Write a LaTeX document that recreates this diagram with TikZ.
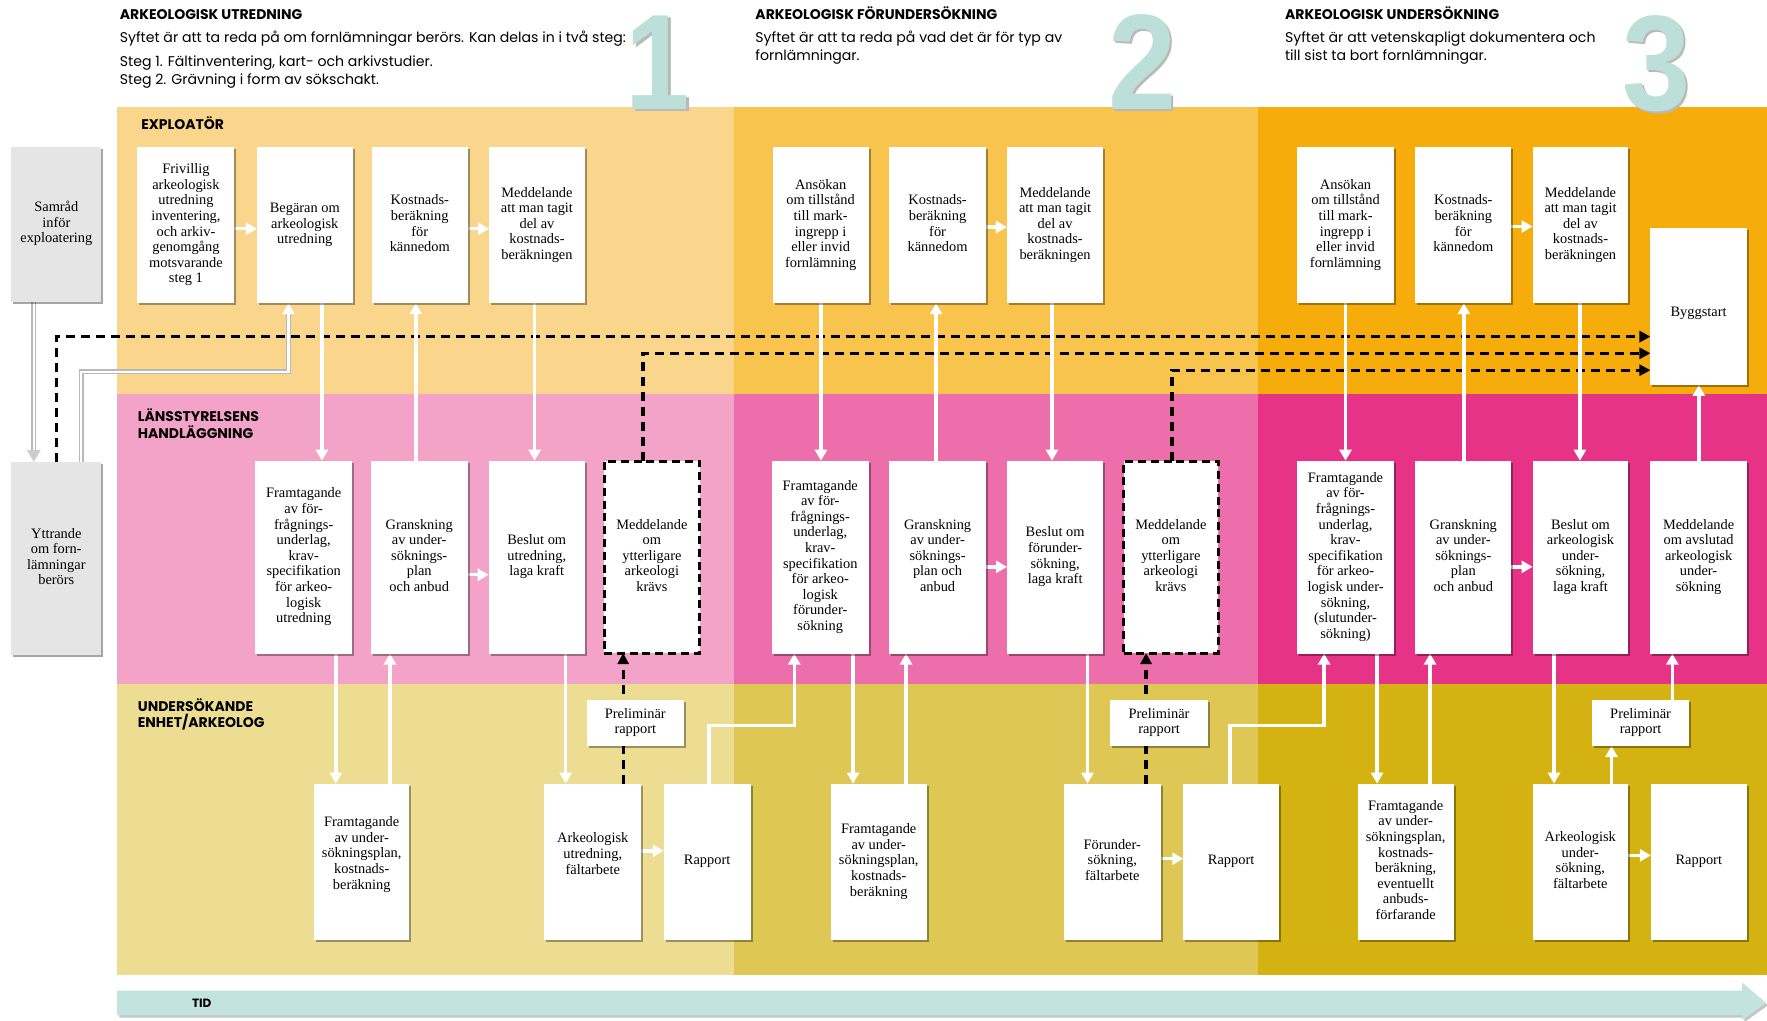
\documentclass[tikz,border=0pt]{standalone}
\usepackage{fontspec}
\setmainfont{Liberation Serif}
\newfontfamily\hsans{Poppins}
\newfontfamily\numfont{Liberation Sans}
\usetikzlibrary{arrows.meta,shadows,fit}
\pgfdeclarelayer{back}
\pgfdeclarelayer{conn}
\pgfsetlayers{back,conn,main}
\definecolor{c11}{HTML}{FAD68C}
\definecolor{c12}{HTML}{F9C44E}
\definecolor{c13}{HTML}{F6AC0A}
\definecolor{c21}{HTML}{F3A3C7}
\definecolor{c22}{HTML}{EC6EAA}
\definecolor{c23}{HTML}{E63287}
\definecolor{c31}{HTML}{ECDD92}
\definecolor{c32}{HTML}{DFC756}
\definecolor{c33}{HTML}{D4B212}
\definecolor{numc}{HTML}{BDDFDA}
\definecolor{tidc}{HTML}{C3E3DF}
\newcommand{\btxt}[2][0pt]{%
  \setbox0=\hbox{\begin{tabular}[t]{@{}c@{}}#2\end{tabular}}%
  \dimen0=\ht0 \advance\dimen0 by \dp0 \relax
  \setbox2=\hbox{\lower\dimexpr\ht0+#1\relax\box0}%
  \ht2=0pt \dp2=\dimen0 \box2}
\begin{document}
\begin{tikzpicture}[x=0.5635pt,y=-0.5635pt,
  box/.style={fill=white, inner sep=0pt, outer sep=0pt,
    font=\fontsize{7.2}{7.8}\selectfont,
    drop shadow={shadow xshift=1pt, shadow yshift=-1pt, opacity=0.35, fill=black}},
  greybox/.style={box, fill=gray!20},
  dashbox/.style={fill=white, draw=black, line width=1.5pt, dash pattern=on 4pt off 2.4pt,
    inner sep=0pt, outer sep=0pt, font=\fontsize{7.2}{7.8}\selectfont},
  wl/.style={draw=white, line width=1.7pt, -{Triangle[length=5.5pt,width=6pt]}},
  dl/.style={draw=black, line width=1.6pt, dash pattern=on 4.5pt off 3pt, -{Triangle[length=5.5pt,width=5.5pt]}},
  hd/.style={font=\hsans\bfseries\fontsize{7}{8}\selectfont, inner sep=0pt, anchor=base west},
  tx/.style={font=\hsans\fontsize{7.05}{8}\selectfont, inner sep=0pt, anchor=base west},
  lane/.style={font=\hsans\bfseries\fontsize{7}{8}\selectfont, inner sep=0pt, anchor=base west},
  num/.style={font=\numfont\bfseries\fontsize{68}{68}\selectfont, text=numc, inner sep=0pt, anchor=base},
  numsh/.style={num, text=gray!55}
]
\useasboundingbox (0,0) rectangle (1568,906);
\begin{pgfonlayer}{back}
\fill[white] (0,0) rectangle (1568,906);
\fill[c11] (104,95) rectangle (651,350);
\fill[c12] (651,95) rectangle (1116,350);
\fill[c13] (1116,95) rectangle (1568,350);
\fill[c21] (104,350) rectangle (651,607);
\fill[c22] (651,350) rectangle (1116,607);
\fill[c23] (1116,350) rectangle (1568,607);
\fill[c31] (104,607) rectangle (651,865);
\fill[c32] (651,607) rectangle (1116,865);
\fill[c33] (1116,607) rectangle (1568,865);
\fill[gray!45] (106,881) -- (1548,881) -- (1548,874) -- (1569,892) -- (1548,907) -- (1548,903) -- (106,903) -- cycle;
\fill[tidc] (104,879) -- (1546,879) -- (1546,872) -- (1567,890) -- (1546,905) -- (1546,901) -- (104,901) -- cycle;
\end{pgfonlayer}

% headers
\node[hd] (h1) at (106,17.5) {ARKEOLOGISK UTREDNING};
\node[tx] (t1a) at (106,38) {Syftet är att ta reda på om fornlämningar berörs. Kan delas in i två steg:};
\node[tx] (t1b) at (106,58.6) {Steg 1. Fältinventering, kart- och arkivstudier.};
\node[tx] (t1c) at (106,75) {Steg 2. Grävning i form av sökschakt.};
\node[hd] (h2) at (670,17.5) {ARKEOLOGISK FÖRUNDERSÖKNING};
\node[tx] (t2a) at (670,38) {Syftet är att ta reda på vad det är för typ av};
\node[tx] (t2b) at (670,54) {fornlämningar.};
\node[hd] (h3) at (1140,17.5) {ARKEOLOGISK UNDERSÖKNING};
\node[tx] (t3a) at (1140,38) {Syftet är att vetenskapligt dokumentera och};
\node[tx] (t3b) at (1140,54) {till sist ta bort fornlämningar.};

% big numbers
\node[numsh] at (586,99) {\scalebox{0.85}[1]{1}};
\node[num] (n1) at (584,97) {\scalebox{0.85}[1]{1}};
\node[numsh] at (1016,99) {\scalebox{0.9}[1]{2}};
\node[num] (n2) at (1014,97) {\scalebox{0.9}[1]{2}};
\node[numsh] at (1472,100) {\scalebox{0.9}[1]{3}};
\node[num] (n3) at (1470,98) {\scalebox{0.9}[1]{3}};

% lane labels
\node[lane] (l1) at (125,115) {EXPLOATÖR};
\node[lane] (l2a) at (122,374) {LÄNSSTYRELSENS};
\node[lane] (l2b) at (122,389) {HANDLÄGGNING};
\node[lane] (l3a) at (122,631) {UNDERSÖKANDE};
\node[lane] (l3b) at (122,646) {ENHET/ARKEOLOG};
\node[font=\hsans\bfseries\fontsize{6}{7}\selectfont, inner sep=0pt] (tid) at (179,890) {TID};

% left grey boxes
\node[greybox, fit={(10,130) (90,268)}] (S) {\btxt{Samråd\\inför\\exploatering}};
\node[greybox, fit={(10,410) (90,581)}] (Y) {\btxt{Yttrande\\om forn-\\lämningar\\berörs}};

% row 1
\node[box, fit={(122,130.5) (208,269)}] (A1) {\btxt{Frivillig\\arkeologisk\\utredning\\inventering,\\och arkiv-\\genomgång\\motsvarande\\steg 1}};
\node[box, fit={(228,130.5) (313,269)}] (A2) {\btxt{Begäran om\\arkeologisk\\utredning}};
\node[box, fit={(330,130.5) (415,269)}] (A3) {\btxt{Kostnads-\\beräkning\\för\\kännedom}};
\node[box, fit={(434,130.5) (519,269)}] (A4) {\btxt{Meddelande\\att man tagit\\del av\\kostnads-\\beräkningen}};
\node[box, fit={(685.5,130.5) (771,269)}] (B1) {\btxt{Ansökan\\om tillstånd\\till mark-\\ingrepp i\\eller invid\\fornlämning}};
\node[box, fit={(789,130.5) (875,269)}] (B2) {\btxt{Kostnads-\\beräkning\\för\\kännedom}};
\node[box, fit={(893.5,130.5) (979,269)}] (B3) {\btxt{Meddelande\\att man tagit\\del av\\kostnads-\\beräkningen}};
\node[box, fit={(1151,130.5) (1237,269)}] (C1) {\btxt{Ansökan\\om tillstånd\\till mark-\\ingrepp i\\eller invid\\fornlämning}};
\node[box, fit={(1256,130.5) (1341,269)}] (C2) {\btxt{Kostnads-\\beräkning\\för\\kännedom}};
\node[box, fit={(1360,130.5) (1445,269)}] (C3) {\btxt{Meddelande\\att man tagit\\del av\\kostnads-\\beräkningen}};
\node[box, fit={(1464.6,202) (1550,341.6)}] (BS) {\btxt[3.4pt]{Byggstart}};

% row 2
\node[box, fit={(226.5,408.8) (312.5,580)}] (D1) {\btxt{Framtagande\\av för-\\frågnings-\\underlag,\\krav-\\specifikation\\för arkeo-\\logisk\\utredning}};
\node[box, fit={(329,408.8) (415,580)}] (D2) {\btxt{Granskning\\av under-\\söknings-\\plan\\och anbud}};
\node[box, fit={(433.6,408.8) (519,580)}] (D3) {\btxt{Beslut om\\utredning,\\laga kraft}};
\node[dashbox, fit={(536,409.5) (621,579.5)}] (D4) {\btxt{Meddelande\\om\\ytterligare\\arkeologi\\krävs}};
\node[box, fit={(685,408.8) (770.8,580)}] (E1) {\btxt{Framtagande\\av för-\\frågnings-\\underlag,\\krav-\\specifikation\\för arkeo-\\logisk\\förunder-\\sökning}};
\node[box, fit={(789,408.8) (875,580)}] (E2) {\btxt{Granskning\\av under-\\söknings-\\plan och\\anbud}};
\node[box, fit={(893.6,408.8) (979,580)}] (E3) {\btxt{Beslut om\\förunder-\\sökning,\\laga kraft}};
\node[dashbox, fit={(997,409.5) (1081,579.5)}] (E4) {\btxt{Meddelande\\om\\ytterligare\\arkeologi\\krävs}};
\node[box, fit={(1151,408.8) (1237,580)}] (F1) {\btxt{Framtagande\\av för-\\frågnings-\\underlag,\\krav-\\specifikation\\för arkeo-\\logisk under-\\sökning,\\(slutunder-\\sökning)}};
\node[box, fit={(1256,408.8) (1341,580)}] (F2) {\btxt{Granskning\\av under-\\söknings-\\plan\\och anbud}};
\node[box, fit={(1360,408.8) (1445,580)}] (F3) {\btxt{Beslut om\\arkeologisk\\under-\\sökning,\\laga kraft}};
\node[box, fit={(1464.6,408.8) (1550,580)}] (F4) {\btxt{Meddelande\\om avslutad\\arkeologisk\\under-\\sökning}};

% row 3
\node[box, fit={(279,695.4) (363,834)}] (G1) {\btxt[-3.5pt]{Framtagande\\av under-\\sökningsplan,\\kostnads-\\beräkning}};
\node[box, fit={(483,695.4) (569,834)}] (G2) {\btxt[-3.2pt]{Arkeologisk\\utredning,\\fältarbete}};
\node[box, fit={(589,695.4) (666,834)}] (G3) {\btxt{Rapport}};
\node[box, fit={(520.5,621) (607,662)}] (P1) {\btxt{Preliminär\\rapport}};
\node[box, fit={(737,695.4) (822.6,834)}] (H1) {\btxt{Framtagande\\av under-\\sökningsplan,\\kostnads-\\beräkning}};
\node[box, fit={(944,695.4) (1030,834)}] (H2) {\btxt{Förunder-\\sökning,\\fältarbete}};
\node[box, fit={(1050,695.4) (1135,834)}] (H3) {\btxt{Rapport}};
\node[box, fit={(985,621) (1072,662)}] (P2) {\btxt{Preliminär\\rapport}};
\node[box, fit={(1204.7,695.4) (1290,834)}] (I1) {\btxt{Framtagande\\av under-\\sökningsplan,\\kostnads-\\beräkning,\\eventuellt\\anbuds-\\förfarande}};
\node[box, fit={(1360,695.4) (1444.6,834)}] (I2) {\btxt{Arkeologisk\\under-\\sökning,\\fältarbete}};
\node[box, fit={(1465,695.4) (1550,834)}] (I3) {\btxt{Rapport}};
\node[box, fit={(1413,621) (1498.7,662)}] (P3) {\btxt{Preliminär\\rapport}};

\begin{pgfonlayer}{conn}
% dashed connectors
\draw[dl] (Y.north -| 50,0) |- (BS.west |- 0,298.7);
\draw[dl] (D4.north -| 570.6,0) |- (BS.west |- 0,313.5);
\draw[dl] (E4.north -| 1040,0) |- (BS.west |- 0,328.5);
\draw[dl] (G2.north -| 553,0) -- (D4.south -| 553,0);
\draw[dl] (H2.north -| 1017,0) -- (E4.south -| 1017,0);
% grey connectors
\draw[gray!55, line width=2.6pt, shorten >=3pt] (S.south -| 30,0) -- (Y.north -| 30,0);
\draw[white, line width=1.2pt, -{Triangle[length=6pt,width=6.5pt,color=gray!40]}] (S.south -| 30,0) -- (Y.north -| 30,0);
\draw[gray!55, line width=2.6pt, shorten >=5pt] (Y.north -| 72,0) |- (256,330) -- (A2.south -| 256,0);
\draw[white, line width=1.3pt, -{Triangle[length=5.5pt,width=6pt]}] (Y.north -| 72,0) |- (256,330) -- (A2.south -| 256,0);
% phase 1
\draw[wl] (A1.east |- 0,203) -- (A2.west |- 0,203);
\draw[wl] (A3.east |- 0,203) -- (A4.west |- 0,203);
\draw[wl] (A2.south -| 285.7,0) -- (D1.north -| 285.7,0);
\draw[wl] (D2.north -| 369,0) -- (A3.south -| 369,0);
\draw[wl] (A4.south -| 474.4,0) -- (D3.north -| 474.4,0);
\draw[wl] (D2.east |- 0,510) -- (D3.west |- 0,510);
\draw[wl] (D1.south -| 298,0) -- (G1.north -| 298,0);
\draw[wl] (G1.north -| 346,0) -- (D2.south -| 346,0);
\draw[wl] (D3.south -| 502,0) -- (G2.north -| 502,0);
\draw[wl] (G2.east |- 0,755) -- (G3.west |- 0,755);
\draw[wl] (G3.north -| 629,0) |- (704.8,644) -- (E1.south -| 704.8,0);
% phase 2
\draw[wl] (B1.south -| 728.5,0) -- (E1.north -| 728.5,0);
\draw[wl] (E1.south -| 757,0) -- (H1.north -| 757,0);
\draw[wl] (H1.north -| 804,0) -- (E2.south -| 804,0);
\draw[wl] (E2.north -| 830.6,0) -- (B2.south -| 830.6,0);
\draw[wl] (B2.east |- 0,201.5) -- (B3.west |- 0,201.5);
\draw[wl] (B3.south -| 933.5,0) -- (E3.north -| 933.5,0);
\draw[wl] (E2.east |- 0,503) -- (E3.west |- 0,503);
\draw[wl] (E3.south -| 965,0) -- (H2.north -| 965,0);
\draw[wl] (H2.east |- 0,762) -- (H3.west |- 0,762);
\draw[wl] (H3.north -| 1091.5,0) |- (1175,644) -- (F1.south -| 1175,0);
% phase 3
\draw[wl] (C1.south -| 1194,0) -- (F1.north -| 1194,0);
\draw[wl] (F1.south -| 1222,0) -- (I1.north -| 1222,0);
\draw[wl] (I1.north -| 1269,0) -- (F2.south -| 1269,0);
\draw[wl] (F2.north -| 1299,0) -- (C2.south -| 1299,0);
\draw[wl] (C2.east |- 0,201) -- (C3.west |- 0,201);
\draw[wl] (C3.south -| 1402,0) -- (F3.north -| 1402,0);
\draw[wl] (F2.east |- 0,503) -- (F3.west |- 0,503);
\draw[wl] (F3.south -| 1379,0) -- (I2.north -| 1379,0);
\draw[wl] (I2.east |- 0,759) -- (I3.west |- 0,759);
\draw[wl] (I2.north -| 1430,0) -- (P3.south -| 1430,0);
\draw[wl] (P3.north -| 1484,0) -- (F4.south -| 1484,0);
\draw[wl] (F4.north -| 1507.5,0) -- (BS.south -| 1507.5,0);
\end{pgfonlayer}
\end{tikzpicture}
\end{document}
